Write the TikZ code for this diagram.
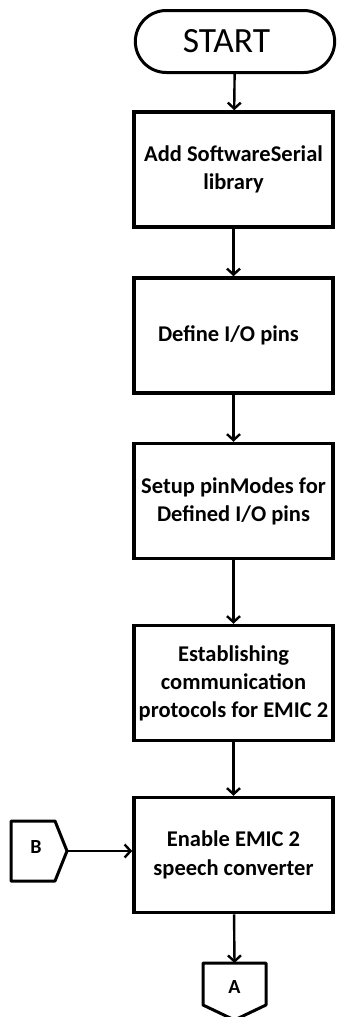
\documentclass[tikz,border=0pt]{standalone}
\usepackage{fontspec}
\setmainfont{Carlito}
\usetikzlibrary{arrows.meta,shapes.misc}
\begin{document}
\begin{tikzpicture}[x=1pt,y=-1pt,
  stepbox/.style={draw,line width=3.5pt,minimum width=199pt,minimum height=115pt,
    align=center,font=\fontsize{22.5}{28}\selectfont\bfseries,inner sep=2pt},
  terminal/.style={draw,rounded rectangle,line width=3pt,minimum width=206pt,
    minimum height=62pt,font=\fontsize{35.5}{40}\selectfont},
  link/.style={line width=3pt,line join=round},
  flow/.style={line width=2.4pt,-{Straight Barb[length=6pt,width=13pt,line width=2.4pt]}}]
\useasboundingbox (0,0) rectangle (340,1017);
\node[terminal] (start) at (235,41.5) {\hspace*{-17pt}START};
\node[stepbox] (lib) at (233.5,169.5) {Add SoftwareSerial\\library};
\node[stepbox] (pins) at (233.5,335.5) {\hspace*{-10pt}Define I/O pins};
\node[stepbox] (modes) at (233.5,501) {Setup pinModes for\\Defined I/O pins};
\node[stepbox] (proto) at (233.5,683) {Establishing\\communication\\protocols for EMIC 2};
\node[stepbox] (emic) at (233.5,855) {\raisebox{4pt}{\shortstack{Enable EMIC 2\\[10pt]speech converter}}};
% off-page connectors
\draw[link] (11,821) -- (55,821) -- (67,851) -- (55,881) -- (11,881) -- cycle;
\node[font=\fontsize{20}{24}\selectfont\bfseries] (inB) at (36,847) {B};
\coordinate (Btip) at (67,851);
\draw[link] (203,963) -- (266,963) -- (266,1005) -- (234.5,1020) -- (203,1005) -- cycle;
\node[font=\fontsize{20}{24}\selectfont\bfseries] (outA) at (234.5,987) {A};
\coordinate (Atop) at (234.5,963);
% flow
\draw[flow] (start) -- (lib);
\draw[flow] (lib) -- (pins);
\draw[flow] (pins) -- (modes);
\draw[flow] (modes) -- (proto);
\draw[flow] (proto) -- (emic);
\draw[flow] (Btip) -- (Btip -| emic.west);
\draw[flow] (emic) -- (Atop);
\end{tikzpicture}
\end{document}
